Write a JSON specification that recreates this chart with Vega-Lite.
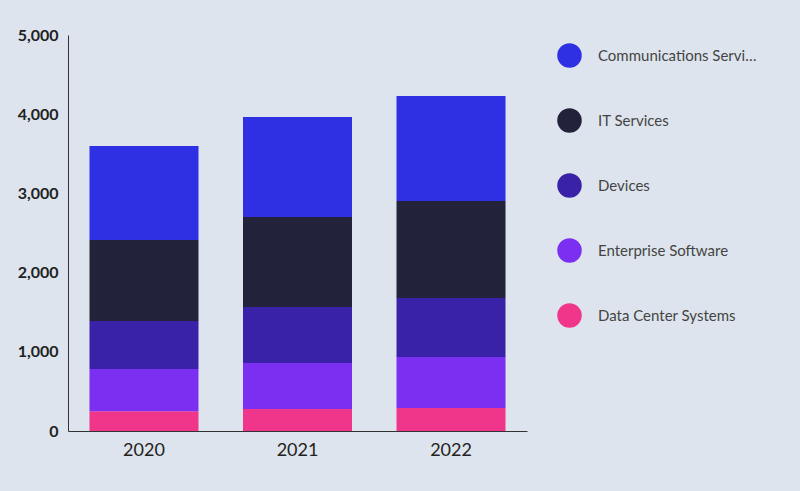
{
  "$schema": "https://vega.github.io/schema/vega-lite/v6.json",
  "width": 459,
  "height": 396,
  "autosize": "none",
  "padding": {"left": 68, "top": 35, "right": 273, "bottom": 60},
  "background": "#dde4ed",
  "config": {"view": {"stroke": null}, "font": "Lato"},
  "data": {
    "values": [
      {"year": "2020", "segment": "Data Center Systems", "value": 250, "rank": 1},
      {"year": "2020", "segment": "Enterprise Software", "value": 533, "rank": 2},
      {"year": "2020", "segment": "Devices", "value": 606, "rank": 3},
      {"year": "2020", "segment": "IT Services", "value": 1023, "rank": 4},
      {"year": "2020", "segment": "Communications Services", "value": 1186, "rank": 5},
      {"year": "2021", "segment": "Data Center Systems", "value": 278, "rank": 1},
      {"year": "2021", "segment": "Enterprise Software", "value": 581, "rank": 2},
      {"year": "2021", "segment": "Devices", "value": 707, "rank": 3},
      {"year": "2021", "segment": "IT Services", "value": 1136, "rank": 4},
      {"year": "2021", "segment": "Communications Services", "value": 1263, "rank": 5},
      {"year": "2022", "segment": "Data Center Systems", "value": 290, "rank": 1},
      {"year": "2022", "segment": "Enterprise Software", "value": 644, "rank": 2},
      {"year": "2022", "segment": "Devices", "value": 745, "rank": 3},
      {"year": "2022", "segment": "IT Services", "value": 1225, "rank": 4},
      {"year": "2022", "segment": "Communications Services", "value": 1326, "rank": 5}
    ]
  },
  "mark": {"type": "bar"},
  "encoding": {
    "x": {
      "field": "year", "type": "nominal", "title": null,
      "scale": {"paddingInner": 0.29, "paddingOuter": 0.14},
      "axis": {"labelAngle": 0, "labelFontSize": 18, "labelColor": "#222", "ticks": false, "domainColor": "#333", "labelPadding": 10}
    },
    "y": {
      "field": "value", "type": "quantitative", "stack": "zero", "title": null,
      "scale": {"domain": [0, 5000]},
      "axis": {"values": [0, 1000, 2000, 3000, 4000, 5000], "grid": false, "ticks": false, "labelFontSize": 16, "labelFontWeight": "bold", "labelColor": "#222", "domainColor": "#333", "labelPadding": 10}
    },
    "order": {"field": "rank", "type": "quantitative"},
    "color": {
      "field": "segment", "type": "nominal",
      "scale": {
        "domain": ["Communications Services", "IT Services", "Devices", "Enterprise Software", "Data Center Systems"],
        "range": ["#2f2fe4", "#22223a", "#3a22a8", "#7b2ff0", "#f0368a"]
      },
      "legend": {
        "orient": "none", "legendX": 489, "legendY": 8, "title": null,
        "symbolType": "circle", "symbolSize": 600, "symbolStrokeWidth": 0,
        "labelFontSize": 15, "labelColor": "#444", "labelOffset": 16,
        "rowPadding": 40
      }
    }
  }
}
